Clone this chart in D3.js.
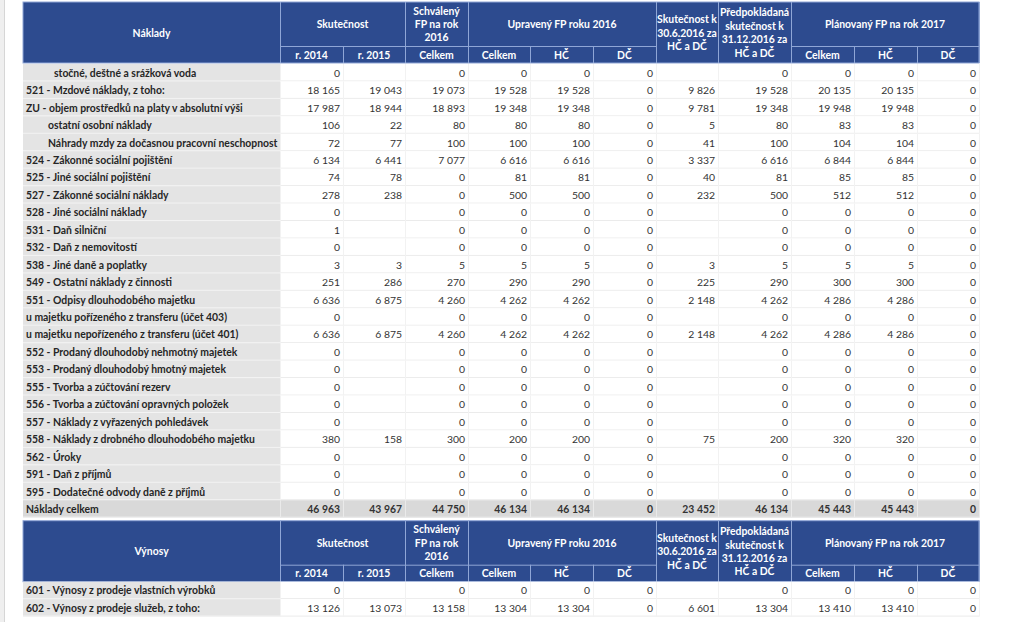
<!DOCTYPE html>
<html><head><meta charset="utf-8">
<script src="https://cdn.jsdelivr.net/npm/d3@7"></script>
<style>
html,body{margin:0;padding:0;background:#fff;}
svg{display:block;}
</style>
</head><body>
<svg id="chart" width="1023" height="622"></svg>
<script>
// ---------- DATA ----------
const groupHeaders = [
  {label: "Skutečnost", span: 2},
  {label: "Schválený\nFP na rok\n2016", span: 1},
  {label: "Upravený FP roku 2016", span: 3},
  {label: "Skutečnost k\n30.6.2016 za\nHČ a DČ", span: 1, full: true},
  {label: "Předpokládaná\nskutečnost k\n31.12.2016 za\nHČ a DČ", span: 1, full: true},
  {label: "Plánovaný FP na rok 2017", span: 3}
];
const subHeaders = ["r. 2014", "r. 2015", "Celkem", "Celkem", "HČ", "DČ", null, null, "Celkem", "HČ", "DČ"];

const costLabels = [
  "stočné, deštné a srážková voda",
  "521 - Mzdové náklady, z toho:",
  "ZU - objem prostředků na platy v absolutní výši",
  "ostatní osobní náklady",
  "Náhrady mzdy za dočasnou pracovní neschopnost",
  "524 - Zákonné sociální pojištění",
  "525 - Jiné sociální pojištění",
  "527 - Zákonné sociální náklady",
  "528 - Jiné sociální náklady",
  "531 - Daň silniční",
  "532 - Daň z nemovitostí",
  "538 - Jiné daně a poplatky",
  "549 - Ostatní náklady z činnosti",
  "551 - Odpisy dlouhodobého majetku",
  "u majetku pořízeného z transferu (účet 403)",
  "u majetku nepořízeného z transferu (účet 401)",
  "552 - Prodaný dlouhodobý nehmotný majetek",
  "553 - Prodaný dlouhodobý hmotný majetek",
  "555 - Tvorba a zúčtování rezerv",
  "556 - Tvorba a zúčtování opravných položek",
  "557 - Náklady z vyřazených pohledávek",
  "558 - Náklady z drobného dlouhodobého majetku",
  "562 - Úroky",
  "591 - Daň z příjmů",
  "595 - Dodatečné odvody daně z příjmů",
  "Náklady celkem"
];
const costIndent = [2, 0, 0, 1, 1, 0,0,0,0,0,0,0,0,0,0,0,0,0,0,0,0,0,0,0,0,0];
const costValues = [
  [0, null, 0, 0, 0, 0, null, 0, 0, 0, 0],
  [18165, 19043, 19073, 19528, 19528, 0, 9826, 19528, 20135, 20135, 0],
  [17987, 18944, 18893, 19348, 19348, 0, 9781, 19348, 19948, 19948, 0],
  [106, 22, 80, 80, 80, 0, 5, 80, 83, 83, 0],
  [72, 77, 100, 100, 100, 0, 41, 100, 104, 104, 0],
  [6134, 6441, 7077, 6616, 6616, 0, 3337, 6616, 6844, 6844, 0],
  [74, 78, 0, 81, 81, 0, 40, 81, 85, 85, 0],
  [278, 238, 0, 500, 500, 0, 232, 500, 512, 512, 0],
  [0, null, 0, 0, 0, 0, null, 0, 0, 0, 0],
  [1, null, 0, 0, 0, 0, null, 0, 0, 0, 0],
  [0, null, 0, 0, 0, 0, null, 0, 0, 0, 0],
  [3, 3, 5, 5, 5, 0, 3, 5, 5, 5, 0],
  [251, 286, 270, 290, 290, 0, 225, 290, 300, 300, 0],
  [6636, 6875, 4260, 4262, 4262, 0, 2148, 4262, 4286, 4286, 0],
  [0, null, 0, 0, 0, 0, null, 0, 0, 0, 0],
  [6636, 6875, 4260, 4262, 4262, 0, 2148, 4262, 4286, 4286, 0],
  [0, null, 0, 0, 0, 0, null, 0, 0, 0, 0],
  [0, null, 0, 0, 0, 0, null, 0, 0, 0, 0],
  [0, null, 0, 0, 0, 0, null, 0, 0, 0, 0],
  [0, null, 0, 0, 0, 0, null, 0, 0, 0, 0],
  [0, null, 0, 0, 0, 0, null, 0, 0, 0, 0],
  [380, 158, 300, 200, 200, 0, 75, 200, 320, 320, 0],
  [0, null, 0, 0, 0, 0, null, 0, 0, 0, 0],
  [0, null, 0, 0, 0, 0, null, 0, 0, 0, 0],
  [0, null, 0, 0, 0, 0, null, 0, 0, 0, 0],
  [46963, 43967, 44750, 46134, 46134, 0, 23452, 46134, 45443, 45443, 0]
];

const revLabels = [
  "601 - Výnosy z prodeje vlastních výrobků",
  "602 - Výnosy z prodeje služeb, z toho:"
];
const revIndent = [0, 0];
const revValues = [
  [0, null, 0, 0, 0, 0, null, 0, 0, 0, 0],
  [13126, 13073, 13158, 13304, 13304, 0, 6601, 13304, 13410, 13410, 0]
];

// ---------- LAYOUT ----------
const svg = d3.select("#chart");
const FONT = "Lato, 'Open Sans', sans-serif";
const FS = 10.4;
const BLUE = "#2D4B8F";
const HDR_LINE = "#8FA6D6";
const LABEL_BG = "#E4E4E4";
const TOTAL_BG = "#D9D9D9";
const GRID = "#EBEBEB";

const labelW = 257;
const colWidths = [63, 62, 63, 62, 63, 63, 62, 73, 63, 63, 62];
const x0 = 23;
const edges = [x0, x0 + labelW];
colWidths.forEach(w => edges.push(edges[edges.length - 1] + w));
const xRight = edges[edges.length - 1];

const fmtLocale = d3.formatLocale({decimal: ",", thousands: "\u00a0", grouping: [3], currency: ["", " Kč"]});
const fmt = fmtLocale.format(",d");

// page stripe on the left
svg.append("rect").attr("x", 0).attr("y", 0).attr("width", 4).attr("height", 622).attr("fill", "#EFEFEF");
svg.append("line").attr("x1", 4.5).attr("x2", 4.5).attr("y1", 0).attr("y2", 622).attr("stroke", "#D6D6D6");

function drawHeader(g, top, title) {
  const h1 = 44, h2 = 17;
  g.append("rect").attr("x", x0).attr("y", top).attr("width", xRight - x0).attr("height", h1 + h2)
    .attr("fill", BLUE).attr("stroke", HDR_LINE).attr("stroke-width", 1);
  g.append("text").attr("x", x0 + labelW / 2).attr("y", top + (h1 + h2) / 2 + 4)
    .attr("text-anchor", "middle")
    .attr("font-family", FONT).attr("font-weight", "bold").attr("font-size", FS).attr("fill", "#fff").text(title);
  g.append("line").attr("x1", x0 + labelW + 0.5).attr("x2", x0 + labelW + 0.5).attr("y1", top).attr("y2", top + h1 + h2).attr("stroke", HDR_LINE);
  let ci = 0;
  groupHeaders.forEach(gh => {
    const xa = edges[1 + ci], xb = edges[1 + ci + gh.span];
    const lines = gh.label.split("\n");
    const hh = gh.full ? h1 + h2 : h1;
    const lh = 13.4;
    const cy = top + hh / 2;
    const t = g.append("text").attr("text-anchor", "middle")
      .attr("font-family", FONT).attr("font-weight", "bold").attr("font-size", FS).attr("fill", "#fff");
    lines.forEach((ln, i) => {
      t.append("tspan").attr("x", (xa + xb) / 2)
        .attr("y", cy + (i - (lines.length - 1) / 2) * lh + 4).text(ln);
    });
    g.append("line").attr("x1", xb + 0.5).attr("x2", xb + 0.5).attr("y1", top).attr("y2", top + h1 + h2).attr("stroke", HDR_LINE);
    if (!gh.full) {
      g.append("line").attr("x1", xa).attr("x2", xb).attr("y1", top + h1 + 0.5).attr("y2", top + h1 + 0.5).attr("stroke", HDR_LINE);
    }
    ci += gh.span;
  });
  subHeaders.forEach((s, i) => {
    if (!s) return;
    const xa = edges[1 + i], xb = edges[2 + i];
    g.append("text").attr("x", (xa + xb) / 2).attr("y", top + h1 + h2 / 2 + 4)
      .attr("text-anchor", "middle").attr("font-family", FONT).attr("font-weight", "bold")
      .attr("font-size", FS).attr("fill", "#fff").text(s);
    g.append("line").attr("x1", xb + 0.5).attr("x2", xb + 0.5).attr("y1", top + h1).attr("y2", top + h1 + h2).attr("stroke", HDR_LINE);
  });
  return top + h1 + h2;
}

function drawBody(g, top, labels, indent, values, rowH, totalIdx) {
  const y = d3.scaleBand().domain(d3.range(labels.length)).range([top, top + rowH * labels.length]).padding(0);
  const rows = g.selectAll("g.row").data(labels.map((l, i) => ({l, i, v: values[i], ind: indent[i]})))
    .join("g").attr("class", "row").attr("transform", d => `translate(0,${y(d.i)})`);
  const bh = y.bandwidth();
  rows.append("rect").attr("x", x0).attr("y", 0).attr("width", labelW).attr("height", bh)
    .attr("fill", d => d.i === totalIdx ? TOTAL_BG : LABEL_BG);
  rows.append("rect").attr("x", x0 + labelW).attr("y", 0).attr("width", xRight - x0 - labelW).attr("height", bh)
    .attr("fill", d => d.i === totalIdx ? TOTAL_BG : "#fff");
  rows.append("line").attr("x1", x0).attr("x2", x0 + labelW).attr("y1", bh - 0.5).attr("y2", bh - 0.5)
    .attr("stroke", "#F4F4F4");
  rows.append("line").attr("x1", x0 + labelW).attr("x2", xRight).attr("y1", bh - 0.5).attr("y2", bh - 0.5)
    .attr("stroke", GRID);
  rows.each(function(d) {
    const r = d3.select(this);
    edges.slice(1).forEach(e => {
      r.append("line").attr("x1", e + 0.5).attr("x2", e + 0.5).attr("y1", 0).attr("y2", bh)
        .attr("stroke", d.i === totalIdx ? "#EAEAEA" : "#F2F2F2");
    });
  });
  rows.append("text").attr("x", d => x0 + 3 + (d.ind === 2 ? 28 : d.ind === 1 ? 22 : 0)).attr("y", bh / 2 + 4)
    .attr("font-family", FONT).attr("font-weight", "bold").attr("font-size", FS).attr("fill", "#262626")
    .text(d => d.l);
  rows.each(function(d) {
    const r = d3.select(this);
    d.v.forEach((v, j) => {
      if (v === null) return;
      r.append("text").attr("x", edges[2 + j] - 3).attr("y", bh / 2 + 4).attr("text-anchor", "end")
        .attr("font-family", FONT).attr("font-weight", d.i === totalIdx ? "bold" : "normal")
        .attr("font-size", FS).attr("fill", "#333").text(fmt(v));
    });
  });
  return top + rowH * labels.length;
}

const g1 = svg.append("g");
const b1 = drawHeader(g1, 2, "Náklady");
const end1 = drawBody(g1, b1 + 1, costLabels, costIndent, costValues, 17.45, costLabels.length - 1);
const g2 = svg.append("g");
const b2 = drawHeader(g2, end1 + 3, "Výnosy");
drawBody(g2, b2, revLabels, revIndent, revValues, 17.45, -1);
</script>
</body></html>
